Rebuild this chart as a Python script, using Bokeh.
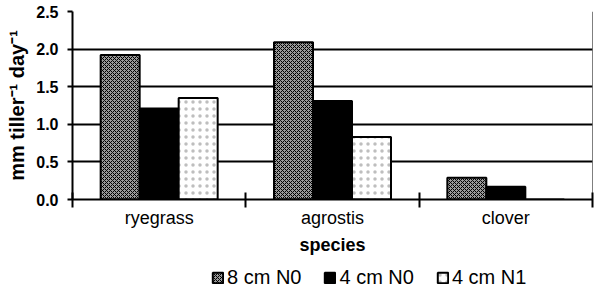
from bokeh.plotting import figure
from bokeh.layouts import column
from bokeh.models import ColumnDataSource, FixedTicker, Range1d, Legend, LegendItem
from bokeh.embed import file_html
from bokeh.resources import INLINE

species = ["ryegrass", "agrostis", "clover"]
series_names = ["8 cm N0", "4 cm N0", "4 cm N1"]
v_8cm_n0 = [1.92, 2.09, 0.29]
v_4cm_n0 = [1.21, 1.31, 0.17]
v_4cm_n1 = [1.35, 0.83, 0.0]
y_ticks = [0.0, 0.5, 1.0, 1.5, 2.0, 2.5]

FONT = "Liberation Sans"
p = figure(frame_width=520, frame_height=188, output_backend="svg", toolbar_location=None,
           x_range=Range1d(0, len(species)), y_range=Range1d(0, 2.5),
           min_border_left=72, min_border_right=7, min_border_top=11, min_border_bottom=56)
p.outline_line_color = None
p.background_fill_color = "white"
p.border_fill_color = "white"

centers = [i + 0.5 for i in range(len(species))]
w = 0.225
styles = [
    dict(fill_color="#9a9a9a", hatch_pattern="x", hatch_color="black", hatch_scale=4, hatch_weight=1),
    dict(fill_color="black"),
    dict(fill_color="white", hatch_pattern=".", hatch_color="#444444", hatch_scale=7, hatch_alpha=0.35),
]
sources = []
for k, (vals, st) in enumerate(zip([v_8cm_n0, v_4cm_n0, v_4cm_n1], styles)):
    src = ColumnDataSource(dict(x=[c + (k - 1) * w for c in centers], top=vals))
    sources.append(src)
    p.vbar(x="x", top="top", width=w, bottom=0, source=src, line_color="black", line_width=2, **st)

# right thin border
p.segment(x0=[len(species)], y0=[0], x1=[len(species)], y1=[2.5], line_color="black", line_width=1)

# x axis
p.xaxis.ticker = FixedTicker(ticks=centers, minor_ticks=list(range(len(species) + 1)))
p.xaxis.major_label_overrides = {c: s for c, s in zip(centers, species)}
p.xaxis.major_tick_out = 0
p.xaxis.major_tick_in = 0
p.xaxis.minor_tick_out = 8
p.xaxis.minor_tick_in = 7
p.xaxis.minor_tick_line_color = "black"
p.xaxis.minor_tick_line_width = 2
p.xaxis.axis_line_width = 2
p.xaxis.axis_line_color = "black"
p.xaxis.major_label_text_font = FONT
p.xaxis.major_label_text_font_size = "18px"
p.xaxis.major_label_text_color = "black"
p.xaxis.major_label_standoff = 0
p.xaxis.axis_label = "species"
p.xaxis.axis_label_text_font = FONT
p.xaxis.axis_label_text_font_size = "18px"
p.xaxis.axis_label_text_font_style = "bold"
p.xaxis.axis_label_text_color = "black"
p.xaxis.axis_label_standoff = 4

# y axis
p.yaxis.ticker = FixedTicker(ticks=y_ticks)
p.yaxis.major_label_overrides = {t: f"{t:.1f}" for t in y_ticks}
p.yaxis.major_tick_out = 5
p.yaxis.major_tick_in = 0
p.yaxis.major_tick_line_width = 2
p.yaxis.minor_tick_line_color = None
p.yaxis.axis_line_width = 2
p.yaxis.axis_line_color = "black"
p.yaxis.major_label_text_font = FONT
p.yaxis.major_label_text_font_size = "16px"
p.yaxis.major_label_text_font_style = "bold"
p.yaxis.major_label_text_color = "black"
p.yaxis.major_label_standoff = 9
p.yaxis.axis_label = "mm tiller\u207b\u00b9 day\u207b\u00b9"
p.yaxis.axis_label_text_font = FONT
p.yaxis.axis_label_text_font_size = "20px"
p.yaxis.axis_label_text_font_style = "bold"
p.yaxis.axis_label_text_color = "black"
p.yaxis.axis_label_standoff = 5

p.xgrid.grid_line_color = None
p.ygrid.grid_line_color = "black"
p.ygrid.grid_line_width = 2

# legend strip (separate figure under the chart; its bars lie outside its view)
lf = figure(frame_width=599, frame_height=42, output_backend="svg", toolbar_location=None,
            x_range=Range1d(100, 101), y_range=Range1d(100, 101),
            min_border=0, min_border_left=0, min_border_right=0, min_border_top=0, min_border_bottom=0)
lf.axis.visible = False
lf.grid.visible = False
lf.outline_line_color = None
lf.border_fill_color = "white"
lrs = []
for src, st in zip(sources, styles):
    lrs.append(lf.vbar(x="x", top="top", width=w, bottom=0, source=src,
                       line_color="black", line_width=2, **st))
legend = Legend(items=[LegendItem(label=n, renderers=[r]) for n, r in zip(series_names, lrs)],
                orientation="horizontal", location=(211, 10),
                label_text_font=FONT, label_text_font_size="20px", label_text_color="black",
                glyph_width=13, glyph_height=13, spacing=22, label_standoff=3,
                padding=0, margin=0, border_line_color=None, background_fill_alpha=0)
lf.add_layout(legend, "center")

layout = column(p, lf, spacing=0)
open("out.html", "w").write(file_html(layout, INLINE))
